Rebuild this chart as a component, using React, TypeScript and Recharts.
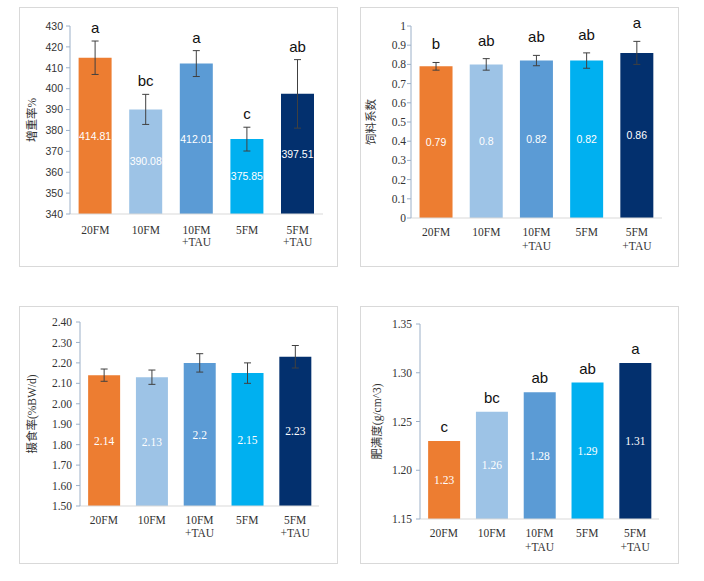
import React from 'react';
import { BarChart, Bar, XAxis, YAxis, Cell, ErrorBar, LabelList } from 'recharts';

// treatment groups ("\n" breaks the label onto a second line)
const groups = ['20FM', '10FM', '10FM\n+TAU', '5FM', '5FM\n+TAU'];
const barColors = ['#ED7D31', '#9DC3E6', '#5B9BD5', '#00B0F0', '#03306E'];

// 增重率%
const gainValues = [414.81, 390.08, 412.01, 375.85, 397.51];
const gainErrors = [8, 7.2, 6.2, 5.7, 16.4];
const gainLetters = ['a', 'bc', 'a', 'c', 'ab'];
const gainTicks = [340, 350, 360, 370, 380, 390, 400, 410, 420, 430];

// 饲料系数
const coefValues = [0.79, 0.8, 0.82, 0.82, 0.86];
const coefErrors = [0.02, 0.03, 0.027, 0.04, 0.06];
const coefLetters = ['b', 'ab', 'ab', 'ab', 'a'];
const coefTicks = [0, 0.1, 0.2, 0.3, 0.4, 0.5, 0.6, 0.7, 0.8, 0.9, 1];

// 摄食率(%BW/d)
const intakeValues = [2.14, 2.13, 2.2, 2.15, 2.23];
const intakeErrors = [0.03, 0.035, 0.045, 0.05, 0.055];
const intakeTicks = [1.5, 1.6, 1.7, 1.8, 1.9, 2.0, 2.1, 2.2, 2.3, 2.4];

// 肥满度(g/cm^3)
const cfValues = [1.23, 1.26, 1.28, 1.29, 1.31];
const cfLetters = ['c', 'bc', 'ab', 'ab', 'a'];
const cfTicks = [1.15, 1.2, 1.25, 1.3, 1.35];

const SERIF = "'Liberation Serif', 'Times New Roman', serif";
const SANS = "'Liberation Sans', Arial, sans-serif";
const TITLE_FONT = "'Liberation Serif', 'Noto Sans CJK SC', serif";
const TEXT = '#333';
const X_AXIS_H = 40;

type PanelProps = {
  left: number;
  top: number;
  width: number;
  height: number;
  values: number[];
  errors?: number[];
  letters?: string[];
  ticks: number[];
  fmt?: (v: number) => string;
  title: string;
  titleX: number;
  margin: { top: number; right: number; bottom: number };
  yAxisWidth: number;
  tickMargin: number;
  tickFont: string;
  tickFontSize: number;
  labelFont: string;
  labelFontSize: number;
  letterGap: number;
  xLabelDy: number;
  lineGap: number;
};

function Panel(p: PanelProps) {
  const data = groups.map((g, i) => ({
    group: g,
    value: p.values[i],
    err: p.errors ? p.errors[i] : 0,
    letter: p.letters ? p.letters[i] : '',
  }));
  const yMin = p.ticks[0];
  const yMax = p.ticks[p.ticks.length - 1];
  const plotH = p.height - p.margin.top - p.margin.bottom - X_AXIS_H;
  const plotW = p.width - p.yAxisWidth - p.margin.right;

  const groupTick = (props: any) => {
    const { x, y, payload } = props;
    const lines = String(payload.value).split('\n');
    return (
      <g>
        {lines.map((line, i) => (
          <text
            key={i}
            x={x}
            y={y + p.xLabelDy + i * p.lineGap}
            textAnchor="middle"
            fontFamily={SERIF}
            fontSize={11.5}
            fill={TEXT}
          >
            {line}
          </text>
        ))}
      </g>
    );
  };

  const yTitle = () => (
    <text
      transform={`translate(${p.titleX},${p.margin.top + plotH / 2}) rotate(-90)`}
      textAnchor="middle"
      dominantBaseline="central"
      fontFamily={TITLE_FONT}
      fontSize={11.5}
      fill={TEXT}
    >
      {p.title}
    </text>
  );

  const letterLabel = (props: any) => {
    const vb = props.viewBox || props;
    let i = props.index;
    if (i === undefined) i = Math.floor((vb.x - p.yAxisWidth) / (plotW / groups.length));
    const d = data[i];
    if (!d || !d.letter) return null;
    const h = Math.abs(vb.height);
    const barTop = Math.min(vb.y, vb.y + vb.height);
    const errPx = d.value > yMin ? (d.err / (d.value - yMin)) * h : 0;
    return (
      <text
        key={`letter-${i}`}
        x={vb.x + vb.width / 2}
        y={barTop - errPx - p.letterGap}
        textAnchor="middle"
        fontFamily={SANS}
        fontSize={15}
        fill="#111"
      >
        {d.letter}
      </text>
    );
  };

  return (
    <>
      <div
        style={{
          position: 'absolute',
          left: p.left,
          top: p.top,
          width: p.width,
          height: p.height,
          border: '1px solid #D9D9D9',
          boxSizing: 'border-box',
        }}
      />
      <div style={{ position: 'absolute', left: p.left, top: p.top }}>
        <BarChart
          width={p.width}
          height={p.height}
          data={data}
          margin={{ top: p.margin.top, right: p.margin.right, bottom: p.margin.bottom, left: 0 }}
          barCategoryGap="17%"
        >
          <XAxis
            dataKey="group"
            axisLine={{ stroke: '#D9D9D9' }}
            tickLine={false}
            tickSize={0}
            tickMargin={0}
            height={X_AXIS_H}
            interval={0}
            tick={groupTick}
          />
          <YAxis
            type="number"
            width={p.yAxisWidth}
            domain={[yMin, yMax]}
            ticks={p.ticks}
            interval={0}
            allowDataOverflow
            tickFormatter={p.fmt}
            axisLine={{ stroke: '#9CB0C8' }}
            tickLine={{ stroke: '#9CB0C8' }}
            tickSize={4}
            tickMargin={p.tickMargin}
            tick={{ fontSize: p.tickFontSize, fontFamily: p.tickFont, fill: TEXT }}
            label={yTitle}
          />
          <Bar dataKey="value" isAnimationActive={false}>
            {data.map((d, i) => (
              <Cell key={d.group} fill={barColors[i]} />
            ))}
            {p.errors && (
              <ErrorBar
                dataKey="err"
                direction="y"
                width={3.5}
                stroke="#404040"
                strokeWidth={1}
                isAnimationActive={false}
              />
            )}
            <LabelList
              dataKey="value"
              position="center"
              fill="#fff"
              fontSize={p.labelFontSize}
              fontFamily={p.labelFont}
            />
            {p.letters && <LabelList dataKey="letter" content={letterLabel} />}
          </Bar>
        </BarChart>
      </div>
    </>
  );
}

export default function App() {
  return (
    <div style={{ position: 'absolute', left: 0, top: 0, width: 704, height: 581, background: '#fff' }}>
      <Panel
        left={19}
        top={7}
        width={319}
        height={260}
        values={gainValues}
        errors={gainErrors}
        letters={gainLetters}
        ticks={gainTicks}
        title="增重率%"
        titleX={13}
        margin={{ top: 19, right: 15, bottom: 13 }}
        yAxisWidth={51}
        tickMargin={3}
        tickFont={SANS}
        tickFontSize={10.5}
        labelFont={SANS}
        labelFontSize={10.5}
        letterGap={8}
        xLabelDy={20}
        lineGap={12}
      />
      <Panel
        left={360}
        top={7}
        width={319}
        height={260}
        values={coefValues}
        errors={coefErrors}
        letters={coefLetters}
        ticks={coefTicks}
        title="饲料系数"
        titleX={11}
        margin={{ top: 19, right: 17, bottom: 9 }}
        yAxisWidth={51}
        tickMargin={1}
        tickFont={SERIF}
        tickFontSize={11.5}
        labelFont={SANS}
        labelFontSize={10.5}
        letterGap={13}
        xLabelDy={18}
        lineGap={14}
      />
      <Panel
        left={19}
        top={306}
        width={319}
        height={258}
        values={intakeValues}
        errors={intakeErrors}
        ticks={intakeTicks}
        fmt={(v) => v.toFixed(2)}
        title="摄食率(%BW/d)"
        titleX={13}
        margin={{ top: 16, right: 19, bottom: 18 }}
        yAxisWidth={61}
        tickMargin={4}
        tickFont={SERIF}
        tickFontSize={11.5}
        labelFont={SERIF}
        labelFontSize={11.5}
        letterGap={8}
        xLabelDy={18}
        lineGap={13}
      />
      <Panel
        left={360}
        top={306}
        width={319}
        height={258}
        values={cfValues}
        letters={cfLetters}
        ticks={cfTicks}
        fmt={(v) => v.toFixed(2)}
        title="肥满度(g/cm^3)"
        titleX={17}
        margin={{ top: 18, right: 20, bottom: 5 }}
        yAxisWidth={60}
        tickMargin={4}
        tickFont={SERIF}
        tickFontSize={11.5}
        labelFont={SERIF}
        labelFontSize={11.5}
        letterGap={9}
        xLabelDy={18}
        lineGap={14}
      />
    </div>
  );
}
